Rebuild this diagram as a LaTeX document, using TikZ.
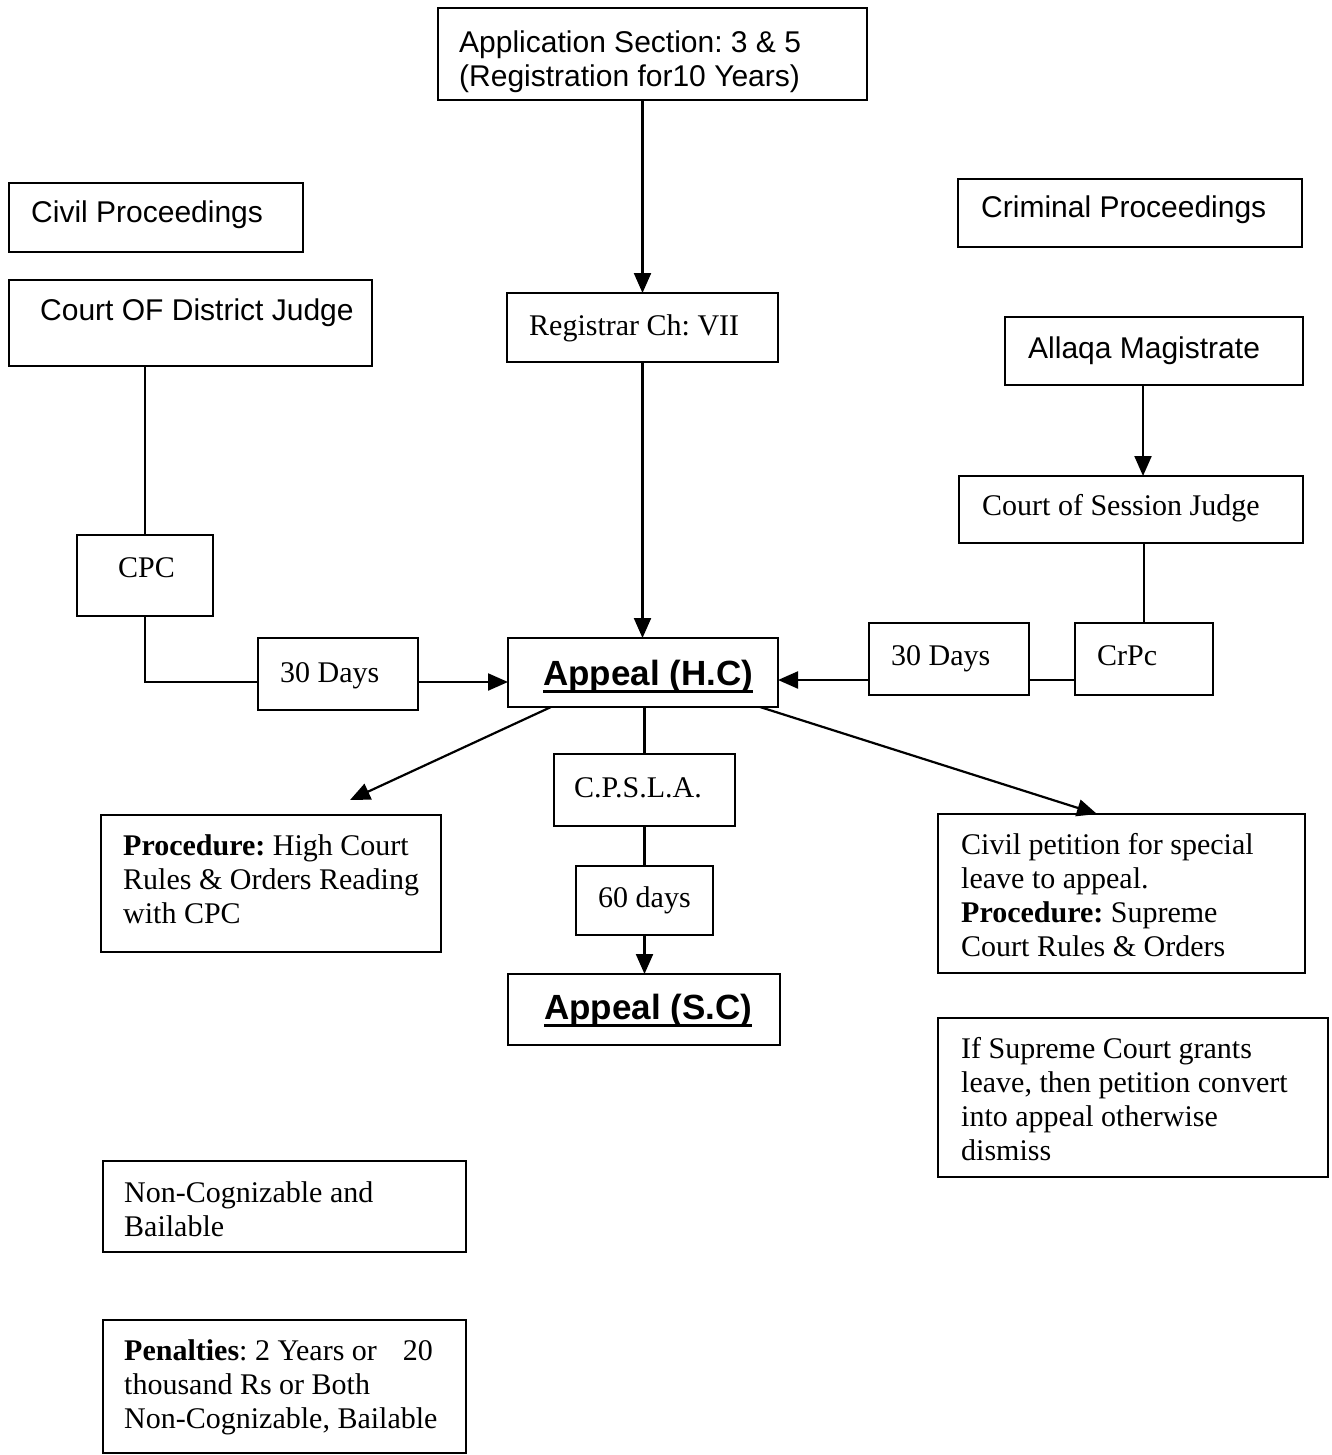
\documentclass[tikz,border=0pt]{standalone}
\usepackage{fontspec}
\setmainfont{Liberation Serif}
\newfontfamily\arialf{Liberation Sans}
\usetikzlibrary{arrows.meta}
\frenchspacing
\newcommand\ulbox[1]{\setbox0\hbox{#1}\rlap{\rule[-8pt]{\wd0}{3pt}}\box0}
\newcommand\mkbox[5]{\node[box, minimum width={(#4-#2)*1pt}, minimum height={(#5-#3)*1pt}] (#1) at (#2,#3) {};}
\newcommand\ml[1]{\parbox[t]{500pt}{#1}}
\begin{document}
\begin{tikzpicture}[x=1pt,y=-1pt,
  box/.style={draw, line width=2.2pt, inner sep=0pt, outer sep=0pt, anchor=north west},
  tx/.style={inner sep=0pt, anchor=base west, font=\fontsize{30}{34}\selectfont\frenchspacing},
  sf/.style={inner sep=0pt, anchor=base west, font=\fontsize{30}{34}\selectfont\arialf\frenchspacing},
  big/.style={inner sep=0pt, anchor=base west, font=\fontsize{35}{40}\selectfont\arialf\bfseries},
  arr/.style={line width=2.2pt, -{Triangle[length=20pt,width=17pt]}},
  ln/.style={line width=2.2pt}]
\useasboundingbox (0,0) rectangle (1331,1455);
\fill[white] (0,0) rectangle (1331,1455);
% boxes
\mkbox{app}{438}{8}{867}{100}
\mkbox{civil}{9}{183}{303}{252}
\mkbox{district}{9}{280}{372}{366}
\mkbox{reg}{507}{293}{778}{362}
\mkbox{crim}{958}{179}{1302}{247}
\mkbox{allaqa}{1005}{317}{1303}{385}
\mkbox{session}{959}{476}{1303}{543}
\mkbox{cpc}{77}{535}{213}{616}
\mkbox{daysA}{258}{638}{418}{710}
\mkbox{hc}{508}{638}{778}{707}
\mkbox{daysB}{869}{623}{1029}{695}
\mkbox{crpc}{1075}{623}{1213}{695}
\mkbox{cpsla}{554}{754}{735}{826}
\mkbox{proc}{101}{815}{441}{952}
\mkbox{daysC}{576}{866}{713}{935}
\mkbox{sc}{508}{974}{780}{1045}
\mkbox{cpet}{938}{814}{1305}{973}
\mkbox{grant}{938}{1018}{1328}{1177}
\mkbox{noncog}{103}{1161}{466}{1252}
\mkbox{pen}{103}{1320}{466}{1453}
% texts
\node[sf] (appT) at (459,53) {\ml{Application Section: 3 \& 5\\(Registration for10 Years)}};
\node[sf] (civilT) at (31,223) {Civil Proceedings};
\node[sf] (districtT) at (40,320) {Court OF District Judge};
\node[tx] (regT) at (529,335) {Registrar Ch: VII};
\node[sf] (crimT) at (981,218) {Criminal Proceedings};
\node[sf] (allaqaT) at (1028,358) {Allaqa Magistrate};
\node[tx] (sessionT) at (982,515) {Court of Session Judge};
\node[tx] (cpcT) at (118,577) {CPC};
\node[tx] (daysAT) at (280,682) {30 Days};
\node[big] (hcT) at (543,685) {\ulbox{Appeal (H.C)}};
\node[tx] (daysBT) at (891,665) {30 Days};
\node[tx] (crpcT) at (1097,665) {CrPc};
\node[tx] (cpslaT) at (574,797) {C.P.S.L.A.};
\node[tx] (procT) at (123,855) {\ml{\textbf{Procedure:} High Court\\Rules \& Orders Reading\\with CPC}};
\node[tx] (daysCT) at (598,907) {60 days};
\node[big] (scT) at (544,1019) {\ulbox{Appeal (S.C)}};
\node[tx] (cpetT) at (961,854) {\ml{Civil petition for special\\leave to appeal.\\\textbf{Procedure:} Supreme\\Court Rules \& Orders}};
\node[tx] (grantT) at (961,1058) {\ml{If Supreme Court grants\\leave, then petition convert\\into appeal otherwise\\dismiss}};
\node[tx] (noncogT) at (124,1202) {\ml{Non-Cognizable and\\Bailable}};
\node[tx] (penT) at (124,1360) {\ml{\textbf{Penalties}: 2 Years or\hspace{26pt}20\\thousand Rs or Both\\Non-Cognizable, Bailable}};
% connectors
\draw[arr] (reg.north |- app.south) -- (reg.north);
\draw[arr] (reg.south) -- (reg.south |- hc.north);
\draw[ln] (cpc.north |- district.south) -- (cpc.north);
\draw[ln] (cpc.south) |- ([yshift=-8pt]daysA.west);
\draw[arr] ([yshift=-8pt]daysA.east) -- ([yshift=-8pt]daysA.east -| hc.west);
\draw[arr] ([xshift=-11pt]allaqa.south) -- ([xshift=-11pt]allaqa.south |- session.north);
\draw[ln] (crpc.north |- session.south) -- (crpc.north);
\draw[ln] ([yshift=-21pt]crpc.west) -- ([yshift=-21pt]crpc.west -| daysB.east);
\draw[arr] ([yshift=-21pt]daysB.west) -- ([yshift=-21pt]daysB.west -| hc.east);
\draw[ln] (cpsla.north |- hc.south) -- (cpsla.north);
\draw[ln] (cpsla.south) -- (daysC.north);
\draw[arr] (daysC.south) -- (daysC.south |- sc.north);
\draw[arr] ([xshift=43pt]hc.south west) -- ([xshift=249pt,yshift=15pt]proc.north west);
\draw[arr] ([xshift=-18pt]hc.south east) -- ([xshift=159pt]cpet.north west);
\end{tikzpicture}
\end{document}
